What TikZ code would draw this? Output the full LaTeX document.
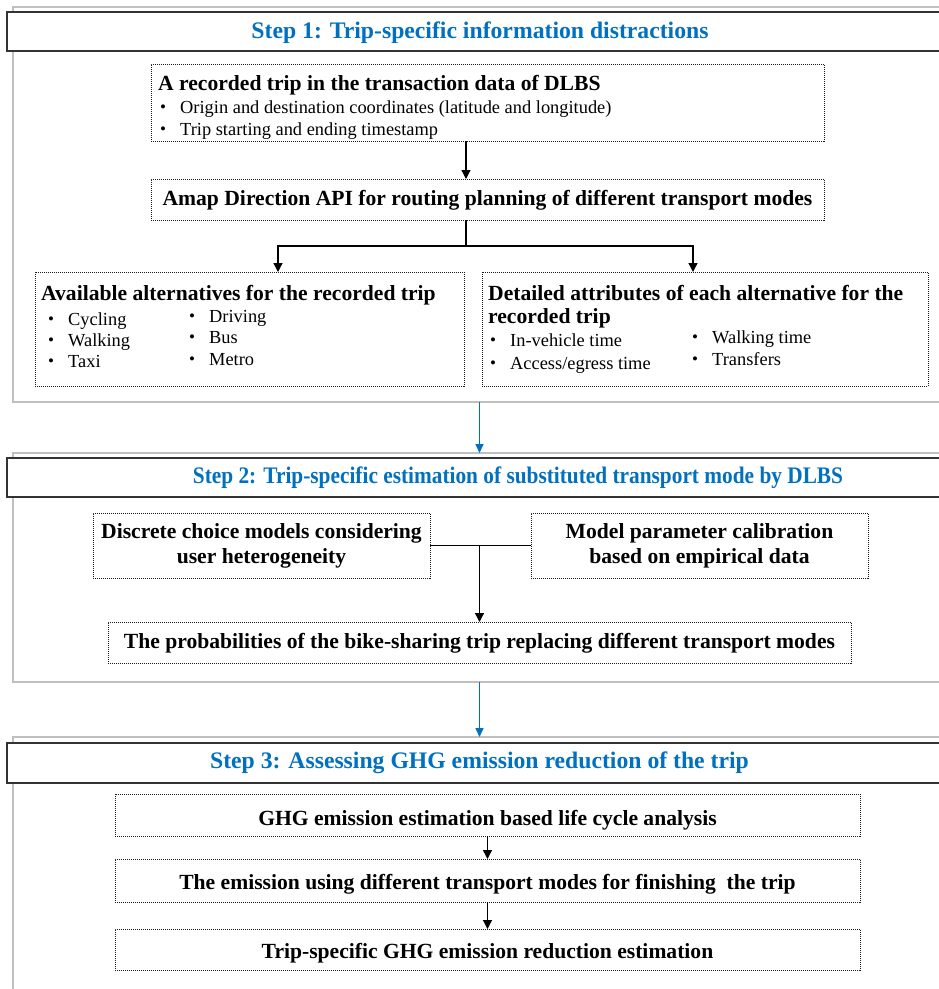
\documentclass[tikz,border=0pt]{standalone}
\usepackage{fontspec}
\setmainfont{Liberation Serif}
\usetikzlibrary{arrows.meta}
\definecolor{stepblue}{RGB}{0,112,192}
\definecolor{panelgray}{RGB}{192,192,192}
\newcommand{\bl}{\makebox[20pt][l]{\fontsize{17}{17}\selectfont\raisebox{0.5pt}{•}}}
\begin{document}
\begin{tikzpicture}[x=1pt,y=-1pt,
  panel/.style={draw=panelgray,line width=1.6pt,anchor=north west,inner sep=0pt,outer sep=0pt},
  titlebox/.style={draw=black!80,fill=white,line width=1.3pt,anchor=north west,inner sep=0pt,outer sep=0pt},
  dbox/.style={draw=black!90,densely dotted,line width=1pt,inner sep=0pt,outer sep=0pt},
  steptitle/.style={anchor=base,inner sep=0pt,text=stepblue,font=\fontsize{23.7}{26}\selectfont\bfseries},
  btxt/.style={inner sep=0pt,anchor=base,font=\fontsize{21.6}{24}\selectfont\bfseries},
  rtxt/.style={inner sep=0pt,anchor=base west,font=\fontsize{18.4}{20}\selectfont},
  arr/.style={-{Triangle[length=9pt,width=9pt]},line width=1.3pt,black},
  bluearr/.style={-{Triangle[length=9pt,width=8pt]},line width=1.5pt,stepblue},
]
\useasboundingbox (0,0) rectangle (939,989);
\clip (0,0) rectangle (939,989);

% panels
\node[panel,minimum width=1000pt,minimum height=395pt] (p1) at (13,7) {};
\node[panel,minimum width=1000pt,minimum height=229pt] (p2) at (13,453) {};
\node[panel,minimum width=1000pt,minimum height=300pt] (p3) at (13,737) {};

% title boxes
\node[titlebox,minimum width=1000pt,minimum height=39pt] (t1box) at (7,12) {};
\node[titlebox,minimum width=1000pt,minimum height=39pt] (t2box) at (7,458) {};
\node[titlebox,minimum width=1000pt,minimum height=40pt] (t3box) at (7,743) {};
\node[steptitle] (t1) at (480,38) {Step 1: Trip-specific information distractions};
\node[steptitle] (t2) at (518,483) {\scalebox{0.9}[1]{Step 2: Trip-specific estimation of substituted transport mode by DLBS}};
\node[steptitle] (t3) at (479.5,768) {Step 3: Assessing GHG emission reduction of the trip};

% step 1
\node[dbox,minimum width=673pt,minimum height=77pt] (A) at (487.5,102.5) {};
\node[btxt,anchor=base west] (Atitle) at (158,90) {A recorded trip in the transaction data of DLBS};
\node[rtxt] (Ab1) at (160,113) {\bl Origin and destination coordinates (latitude and longitude)};
\node[rtxt] (Ab2) at (160,135) {\bl Trip starting and ending timestamp};

\node[dbox,minimum width=673pt,minimum height=41pt] (B) at (487.5,199.5) {};
\node[btxt] (Btxt) at (487.5,205) {Amap Direction API for routing planning of different transport modes};

\node[dbox,minimum width=429pt,minimum height=114pt] (C) at (249.5,329) {};
\node[btxt,anchor=base west] (Ctitle) at (41,300) {Available alternatives for the recorded trip};
\node[rtxt] (Cb1) at (48,325) {\bl Cycling};
\node[rtxt] (Cb2) at (48,346) {\bl Walking};
\node[rtxt] (Cb3) at (48,367) {\bl Taxi};
\node[rtxt] (Cb4) at (189,322) {\bl Driving};
\node[rtxt] (Cb5) at (189,343) {\bl Bus};
\node[rtxt] (Cb6) at (189,365) {\bl Metro};

\node[dbox,minimum width=446pt,minimum height=114pt] (D) at (705,329) {};
\node[btxt,anchor=base west] (Dtitle1) at (488,300) {Detailed attributes of each alternative for the};
\node[btxt,anchor=base west] (Dtitle2) at (488,323) {recorded trip};
\node[rtxt] (Db1) at (490,346) {\bl In-vehicle time};
\node[rtxt] (Db2) at (490,369) {\bl Access/egress time};
\node[rtxt] (Db3) at (692,343) {\bl Walking time};
\node[rtxt] (Db4) at (692,365) {\bl Transfers};

\coordinate (j) at (466,246);
\draw[arr] ([xshift=-21.5pt]A.south) -- ([xshift=-21.5pt]B.north);
\draw[line width=1.3pt] ([xshift=-21.5pt]B.south) -- (j);
\draw[arr] (j) -| ([xshift=28.5pt]C.north);
\draw[arr] (j) -| ([xshift=-12pt]D.north);

% step 2
\node[dbox,minimum width=337pt,minimum height=65pt] (E) at (261.5,545.5) {};
\node[btxt] (Et1) at (261.5,538) {Discrete choice models considering};
\node[btxt] (Et2) at (261.5,563) {user heterogeneity};
\node[dbox,minimum width=337pt,minimum height=65pt] (F) at (699.5,545.5) {};
\node[btxt] (Ft1) at (699.5,538) {Model parameter calibration};
\node[btxt] (Ft2) at (699.5,563) {based on empirical data};
\node[dbox,minimum width=743pt,minimum height=41pt] (G) at (479.5,642.5) {};
\node[btxt] (Gt) at (479.5,648) {The probabilities of the bike-sharing trip replacing different transport modes};
\draw[line width=1.3pt] (E.east) -- (F.west);
\draw[arr] (E.east -| G.north) -- (G.north);

% step 3
\node[dbox,minimum width=745pt,minimum height=42pt] (H) at (487.5,815) {};
\node[btxt] (Ht) at (487.5,825) {GHG emission estimation based life cycle analysis};
\node[dbox,minimum width=745pt,minimum height=43pt] (I) at (487.5,880.5) {};
\node[btxt] (It) at (487.5,889) {The emission using different transport modes for finishing\ \ the trip};
\node[dbox,minimum width=745pt,minimum height=41pt] (J) at (487.5,949.5) {};
\node[btxt] (Jt) at (487.5,958) {Trip-specific GHG emission reduction estimation};
\draw[arr] (H.south) -- (I.north);
\draw[arr] (I.south) -- (J.north);

% blue arrows between steps
\draw[bluearr] (p1.south -| G.north) -- (p2.north -| G.north);
\draw[bluearr] (p2.south -| G.north) -- (p3.north -| G.north);
\end{tikzpicture}
\end{document}
